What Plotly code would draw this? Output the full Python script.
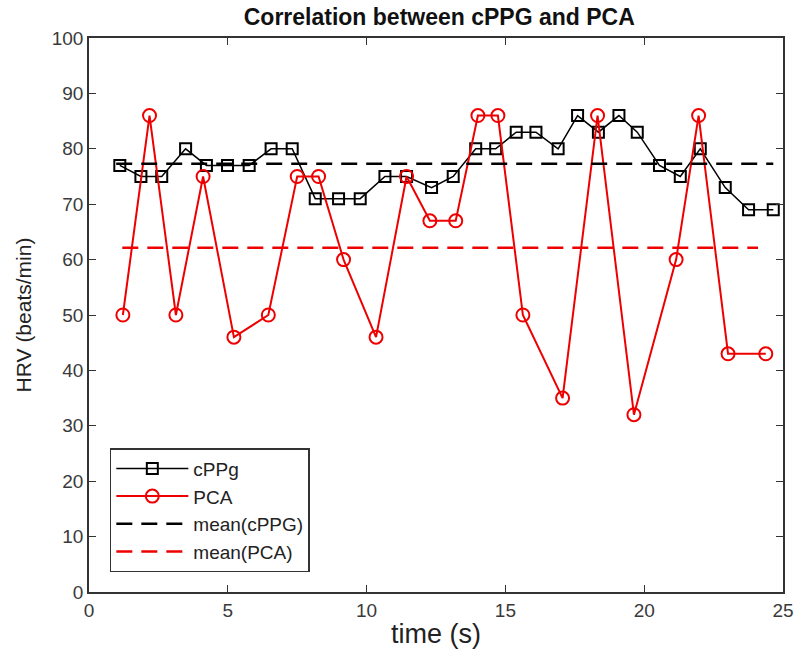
import plotly.graph_objects as go

# cPPG series (black squares)
cppg_t = [1.11, 1.87, 2.62, 3.48, 4.23, 4.99, 5.77, 6.56, 7.32, 8.15, 8.99, 9.77,
          10.66, 11.44, 12.34, 13.12, 13.93, 14.65, 15.39, 16.10, 16.90, 17.60,
          18.35, 19.09, 19.75, 20.55, 21.30, 22.02, 22.92, 23.76, 24.65]
cppg_v = [77, 75, 75, 80, 77, 77, 77, 80, 80, 71, 71, 71, 75, 75, 73, 75, 80, 80,
          83, 83, 80, 86, 83, 86, 83, 77, 75, 80, 73, 69, 69]

# PCA series (red circles)
pca_t = [1.22, 2.18, 3.13, 4.11, 5.22, 6.46, 7.50, 8.27, 9.17, 10.34, 11.44, 12.28,
         13.21, 14.01, 14.73, 15.63, 17.06, 18.32, 19.63, 21.15, 21.96, 23.02, 24.38]
pca_v = [50, 86, 50, 75, 46, 50, 75, 75, 60, 46, 75, 67, 67, 86, 86, 50, 35, 86,
         32, 60, 86, 43, 43]

mean_cppg = sum(cppg_v) / len(cppg_v)
mean_pca = sum(pca_v) / len(pca_v)
mean_cppg_t = [0.98, 24.65]
mean_pca_t = [1.2, 24.1]

x_ticks = [0, 5, 10, 15, 20, 25]
y_ticks = list(range(0, 101, 10))

RED = "#ee0000"
BLACK = "#000000"
FONT = "Liberation Sans, Arial, sans-serif"

fig = go.Figure()
fig.add_trace(go.Scatter(
    x=cppg_t, y=cppg_v, mode="lines+markers", name="cPPg",
    line=dict(color=BLACK, width=1.5),
    marker=dict(symbol="square-open", size=11, color=BLACK, line=dict(width=2)),
))
fig.add_trace(go.Scatter(
    x=pca_t, y=pca_v, mode="lines+markers", name="PCA",
    line=dict(color=RED, width=2),
    marker=dict(symbol="circle-open", size=13, color=RED, line=dict(width=2)),
))
fig.add_trace(go.Scatter(
    x=mean_cppg_t, y=[mean_cppg] * 2, mode="lines", name="mean(cPPG)",
    line=dict(color=BLACK, width=2.5, dash="16px,9px"),
))
fig.add_trace(go.Scatter(
    x=mean_pca_t, y=[mean_pca] * 2, mode="lines", name="mean(PCA)",
    line=dict(color=RED, width=2.5, dash="16px,9px"),
))

axis_common = dict(
    showgrid=False, zeroline=False, showline=True, linecolor="#333333",
    linewidth=1.5, mirror="ticks", ticks="inside", ticklen=7, tickcolor="#333333",
    tickfont=dict(family=FONT, size=19, color="#3a3a3a"),
)

fig.update_layout(
    width=806, height=664,
    margin=dict(l=89, r=14, t=38, b=72),
    paper_bgcolor="white", plot_bgcolor="white",
    title=dict(text="<b>Correlation between cPPG and PCA</b>", x=0.545, xanchor="center",
               y=0.974, yanchor="middle",
               font=dict(family=FONT, size=23, color="#111111")),
    xaxis=dict(range=[0, 25], tickvals=x_ticks,
               title=dict(text="time (s)", standoff=5,
                          font=dict(family=FONT, size=27, color="#222222")),
               **axis_common),
    yaxis=dict(range=[0, 100], tickvals=y_ticks,
               title=dict(text="HRV (beats/min)", standoff=14,
                          font=dict(family=FONT, size=21, color="#222222")),
               **axis_common),
    legend=dict(x=0.030, y=0.036, xanchor="left", yanchor="bottom",
                bgcolor="white", bordercolor="#333333", borderwidth=1.5,
                font=dict(family=FONT, size=19, color="#222222"),
                itemwidth=72),
    showlegend=True,
)

fig.write_html("out.html", config={"displayModeBar": False},
               post_script="document.body.style.margin='0';")
